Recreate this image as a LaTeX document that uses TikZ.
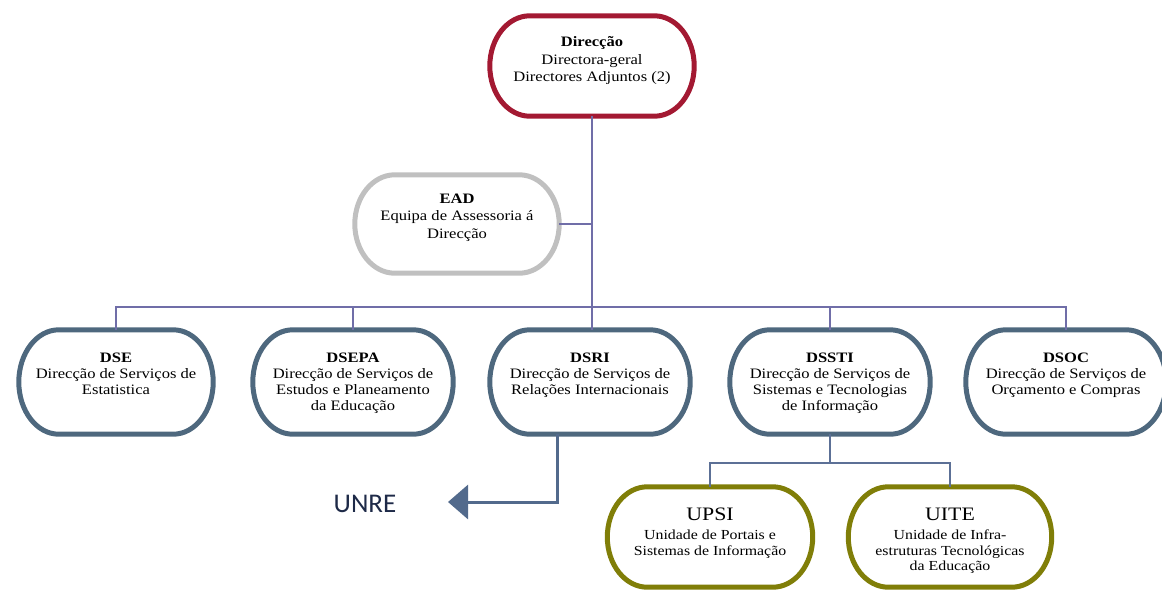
\documentclass[tikz,border=0pt]{standalone}
\usepackage{fontspec}
\setmainfont{Liberation Serif}
\newfontfamily\orgfont[FakeStretch=1.15]{Liberation Serif}
\newfontfamily\calfont{Carlito}
\usetikzlibrary{arrows.meta,calc}

\definecolor{dirred}{RGB}{163,25,50}
\definecolor{eadgray}{RGB}{192,192,192}
\definecolor{slate}{RGB}{78,104,126}
\definecolor{olive}{RGB}{128,126,8}
\definecolor{lavender}{RGB}{112,110,168}
\definecolor{steel}{RGB}{92,112,150}
\definecolor{arrowblue}{RGB}{82,106,140}
\definecolor{unrenavy}{RGB}{30,42,72}

% text block that hangs from its first line, so titles share one height
\newcommand\unitlines[1]{\begin{tabular}[t]{@{}c@{}}#1\end{tabular}}

% pill outline with half-elliptical ends around a named node
% #1 node, #2 colour
\newcommand\pillaround[2]{%
  \draw[line width=5pt, draw=#2] let \p1=(#1.north west), \p2=(#1.south east),
    \n1={(\y1-\y2)/2} in
    ({\x1+40pt},\y1) -- ({\x2-40pt},\y1)
    arc[start angle=90, end angle=-90, x radius=40pt, y radius=\n1]
    -- ({\x1+40pt},\y2)
    arc[start angle=270, end angle=90, x radius=40pt, y radius=\n1]
    -- cycle;}

\begin{document}
\begin{tikzpicture}[x=1pt,y=-1pt,
  unitbox/.style={inner sep=0pt, text=black},
  topbox/.style={unitbox, minimum width=204pt,
    font=\orgfont\fontsize{14.4}{17.5}\selectfont},
  rowbox/.style={unitbox, minimum width=200pt,
    text height=32pt, text depth=72pt,
    font=\orgfont\fontsize{14.4}{16.2}\selectfont},
  subbox/.style={unitbox, minimum width=203pt,
    text height=33.5pt, text depth=66.5pt,
    font=\orgfont\fontsize{13.8}{15.8}\selectfont},
  conn/.style={draw=lavender, line width=1.4pt},
  subconn/.style={draw=steel, line width=1.4pt},
  returnline/.style={draw=arrowblue, line width=3pt,
    -{Triangle[length=20pt,width=34pt]}},
]
\useasboundingbox (0,0) rectangle (1162,592);

% management
\node[topbox, text height=30.6pt, text depth=69.4pt] (dir) at (592,66)
  {\unitlines{\textbf{Direcção}\\Directora-geral\\Directores Adjuntos (2)}};
\node[topbox, text height=28pt, text depth=70pt] (ead) at (457,224)
  {\unitlines{\textbf{EAD}\\Equipa de Assessoria á\\Direcção}};

% service directorates
\node[rowbox, minimum width=194pt] (dse) at (116,382)
  {\unitlines{\textbf{DSE}\\Direcção de Serviços de\\Estatistica}};
\node[rowbox] (dsepa) at (353,382)
  {\unitlines{\textbf{DSEPA}\\Direcção de Serviços de\\Estudos e Planeamento\\da Educação}};
\node[rowbox] (dsri) at (590,382)
  {\unitlines{\textbf{DSRI}\\Direcção de Serviços de\\Relações Internacionais}};
\node[rowbox] (dssti) at (830,382)
  {\unitlines{\textbf{DSSTI}\\Direcção de Serviços de\\Sistemas e Tecnologias\\de Informação}};
\node[rowbox] (dsoc) at (1066,382)
  {\unitlines{\textbf{DSOC}\\Direcção de Serviços de\\Orçamento e Compras}};

% units under DSSTI
\node[subbox, minimum width=205pt] (upsi) at (710,537)
  {\unitlines{{\fontsize{19}{19}\selectfont UPSI}\\[3pt]Unidade de Portais e\\Sistemas de Informação}};
\node[subbox, minimum width=203pt] (uite) at (950,537)
  {\unitlines{{\fontsize{19}{19}\selectfont UITE}\\[3pt]Unidade de Infra-\\estruturas Tecnológicas\\da Educação}};

% outlines
\pillaround{dir}{dirred}
\pillaround{ead}{eadgray}
\foreach \u in {dse,dsepa,dsri,dssti,dsoc} {\pillaround{\u}{slate}}
\foreach \u in {upsi,uite} {\pillaround{\u}{olive}}

% UNRE
\node[font=\calfont\fontsize{27}{27}\selectfont, text=unrenavy, inner sep=0pt]
  (unre) at (365,503.5) {UNRE};

% connectors
\coordinate (bus) at (592,307);
\coordinate (subbus) at (830,463);
\coordinate (unreturn) at (557,502);
\coordinate (unretip) at (448,502);

\draw[conn] (dir.south) -- (dir.south |- dsri.north);
\draw[conn] (ead.east) -- (ead.east -| dir.south);
\draw[conn] (dse.north) |- (bus) -| (dsoc.north);
\draw[conn] (dsepa.north) -- (dsepa.north |- bus);
\draw[conn] (dssti.north) -- (dssti.north |- bus);

\draw[subconn] (dssti.south) -- (subbus);
\draw[subconn] (upsi.north) |- (subbus) -| (uite.north);

\draw[returnline] (dsri.south -| unreturn) -- (unreturn) -- (unretip);
\end{tikzpicture}
\end{document}
